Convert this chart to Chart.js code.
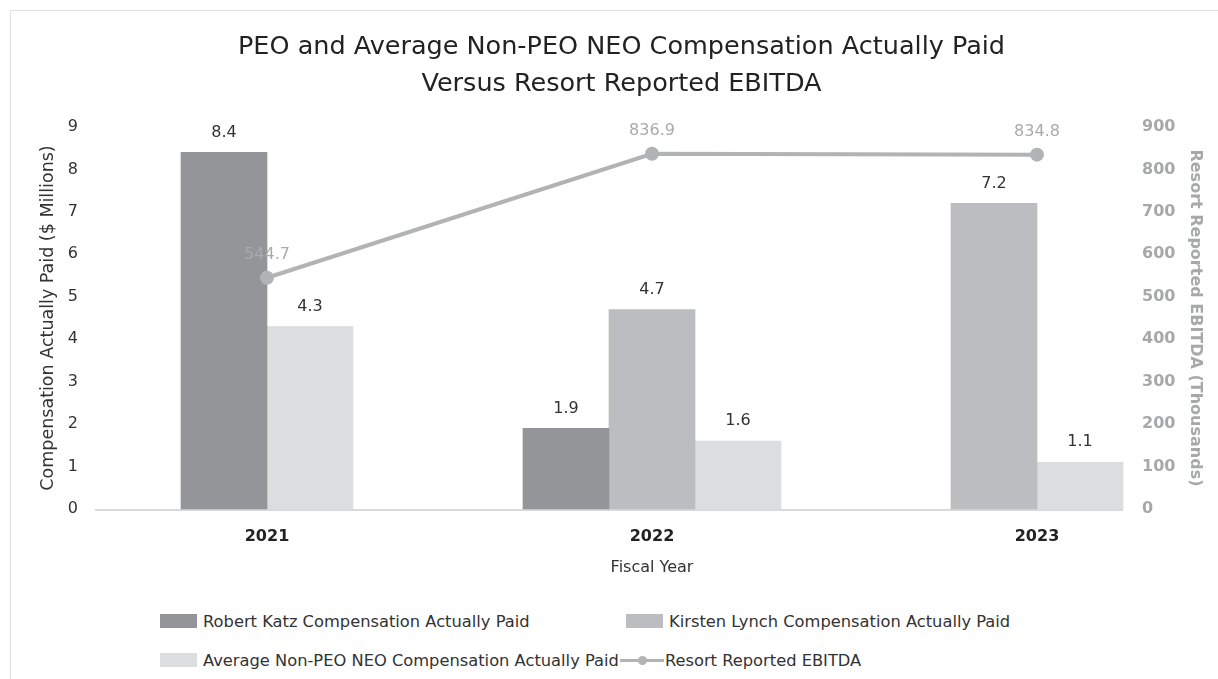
<!DOCTYPE html>
<html>
<head>
<meta charset="utf-8">
<script src="https://cdn.jsdelivr.net/npm/chart.js@4/dist/chart.umd.min.js"></script>
<style>
  html, body { margin: 0; padding: 0; background: #fff; }
  body { width: 1218px; height: 679px; position: relative; overflow: hidden; font-family: "DejaVu Sans", sans-serif; }
  .frame { position: absolute; left: 10px; top: 10px; right: 0; bottom: 0; border-left: 1px solid #e2e2e2; border-top: 1px solid #e2e2e2; }
  .wrap { position: absolute; left: 0; top: 0; width: 1218px; height: 590px; }
  #legend { position: absolute; left: 160px; top: 611px; width: 1000px; font-size: 16.3px; color: #333; }
  .row { position: absolute; left: 0; display: flex; align-items: center; white-space: nowrap; height: 20px; }
  .item { display: flex; align-items: center; }
  .box { width: 37px; height: 14px; margin-right: 6px; }
  .sym { width: 44px; height: 14px; margin: 0 1px; position: relative; }
  .sym i { position: absolute; left: 0; right: 0; top: 6px; height: 3px; }
  .sym b { position: absolute; left: 18px; top: 3px; width: 9px; height: 9px; border-radius: 50%; }
</style>
</head>
<body>
<div class="frame"></div>
<div class="wrap"><canvas id="chart" width="1218" height="590"></canvas></div>
<div id="legend"></div>
<script>
const years = ['2021', '2022', '2023'];
const katzPaid = [8.4, 1.9, null];
const lynchPaid = [null, 4.7, 7.2];
const avgNeoPaid = [4.3, 1.6, 1.1];
const ebitda = [544.7, 836.9, 834.8];

const seriesNames = [
    'Robert Katz Compensation Actually Paid',
    'Kirsten Lynch Compensation Actually Paid',
    'Average Non-PEO NEO Compensation Actually Paid',
    'Resort Reported EBITDA'
];
const COLORS = { dark: '#939598', mid: '#bcbdc0', light: '#dcdddf', line: '#b2b3b5' };
const FONT = '"DejaVu Sans", sans-serif';

// value labels above bars and line points
const valueLabels = {
    id: 'valueLabels',
    afterDatasetsDraw(chart) {
        const ctx = chart.ctx;
        ctx.save();
        ctx.textAlign = 'center';
        ctx.textBaseline = 'middle';
        ctx.font = '16px ' + FONT;
        chart.data.datasets.forEach((ds, i) => {
            const meta = chart.getDatasetMeta(i);
            const isLine = ds.type === 'line';
            ctx.fillStyle = isLine ? '#a9aaac' : '#333';
            meta.data.forEach((el, j) => {
                const v = ds.data[j];
                if (v === null || v === undefined) return;
                ctx.fillText(v.toFixed(1), el.x, el.y - (isLine ? 23 : 20));
            });
        });
        ctx.restore();
    }
};

// base line under the bars, runs the full width of the bar groups
const baseLine = {
    id: 'baseLine',
    beforeDatasetsDraw(chart) {
        const ctx = chart.ctx;
        const y = chart.scales.y.getPixelForValue(0) + 1;
        ctx.save();
        ctx.strokeStyle = '#d9d9d9';
        ctx.lineWidth = 2;
        ctx.beginPath();
        ctx.moveTo(chart.chartArea.left - 172, y);
        ctx.lineTo(chart.chartArea.right + 86, y);
        ctx.stroke();
        ctx.restore();
    }
};

const barBase = { barThickness: 86, clip: false, order: 1, borderWidth: 0 };

const config = {
    type: 'bar',
    data: {
        labels: years,
        datasets: [
            { ...barBase, label: seriesNames[0], data: katzPaid, backgroundColor: COLORS.dark, yAxisID: 'y' },
            { ...barBase, label: seriesNames[1], data: lynchPaid, backgroundColor: COLORS.mid, yAxisID: 'y' },
            { ...barBase, label: seriesNames[2], data: avgNeoPaid, backgroundColor: COLORS.light, yAxisID: 'y' },
            {
                type: 'line', label: seriesNames[3], data: ebitda, yAxisID: 'y1', order: 0,
                borderColor: COLORS.line, backgroundColor: COLORS.line, borderWidth: 4,
                pointRadius: 5, pointHoverRadius: 5, tension: 0, clip: false
            }
        ]
    },
    options: {
        responsive: false,
        animation: false,
        skipNull: true,
        layout: { padding: { left: 34, right: 9, top: 0, bottom: 9 } },
        plugins: {
            legend: { display: false },
            tooltip: { enabled: false },
            title: {
                display: true,
                text: ['PEO and Average Non-PEO NEO Compensation Actually Paid', 'Versus Resort Reported EBITDA'],
                color: '#222',
                font: { family: FONT, size: 25.5, weight: 'normal', lineHeight: 1.45 },
                padding: { top: 28.5, bottom: 24.5 }
            }
        },
        scales: {
            x: {
                offset: false,
                grid: { display: false, drawTicks: false },
                border: { display: false },
                ticks: { color: '#222', padding: 18, font: { family: FONT, size: 16, weight: 'bold' } },
                title: { display: true, text: 'Fiscal Year', color: '#333', padding: { top: 0, bottom: 4 }, font: { family: FONT, size: 16 } },
                afterFit: (scale) => { scale.height = 72; }
            },
            y: {
                position: 'left',
                min: 0, max: 9,
                grid: { display: false, drawTicks: false },
                border: { display: false },
                ticks: { stepSize: 1, color: '#333', padding: 189, font: { family: FONT, size: 16 } },
                title: { display: true, text: 'Compensation Actually Paid ($ Millions)', color: '#333', font: { family: FONT, size: 17.5 } },
                afterFit: (scale) => { scale.width = 233; scale.paddingTop = 10; scale.paddingBottom = 10; }
            },
            y1: {
                position: 'right',
                min: 0, max: 900,
                grid: { display: false, drawTicks: false },
                border: { display: false },
                ticks: { stepSize: 100, color: '#a7a8aa', padding: 105, font: { family: FONT, size: 16, weight: 'bold' } },
                title: { display: true, text: 'Resort Reported EBITDA (Thousands)', color: '#a7a8aa', font: { family: FONT, size: 16, weight: 'bold' } },
                afterFit: (scale) => { scale.width = 172; scale.paddingTop = 10; scale.paddingBottom = 10; }
            }
        }
    },
    plugins: [baseLine, valueLabels]
};

const myChart = new Chart(document.getElementById('chart').getContext('2d'), config);

// html legend, two rows like the original
const legendRows = [[[0, 0], [1, 466]], [[2, null], [3, null]]];
const legendEl = document.getElementById('legend');
legendRows.forEach((row, r) => {
    const rowEl = document.createElement('div');
    rowEl.className = 'row';
    rowEl.style.top = (r * 39) + 'px';
    row.forEach(([i, left]) => {
        const ds = myChart.data.datasets[i];
        const item = document.createElement('span');
        item.className = 'item';
        if (left !== null) { item.style.position = 'absolute'; item.style.left = left + 'px'; }
        if (ds.type === 'line') {
            item.innerHTML = '<span class="sym"><i style="background:' + ds.borderColor + '"></i><b style="background:' + ds.borderColor + '"></b></span>';
        } else {
            item.innerHTML = '<span class="box" style="background:' + ds.backgroundColor + '"></span>';
        }
        const t = document.createElement('span');
        t.textContent = ds.label;
        item.appendChild(t);
        rowEl.appendChild(item);
    });
    legendEl.appendChild(rowEl);
});
</script>
</body>
</html>
